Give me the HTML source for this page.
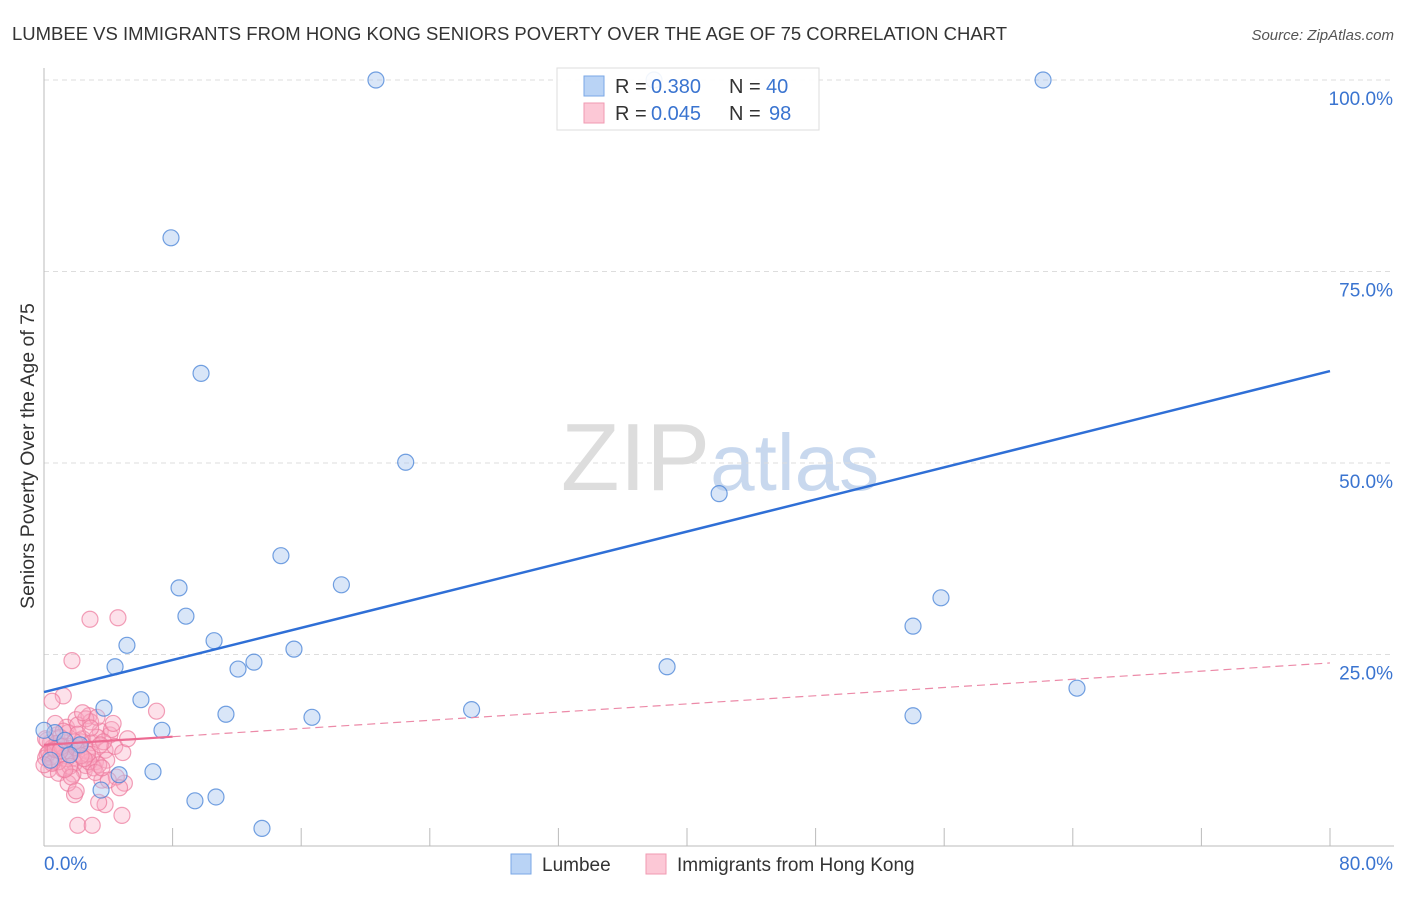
<!DOCTYPE html>
<html><head><meta charset="utf-8"><style>
body{margin:0;background:#fff;font-family:"Liberation Sans",sans-serif;}
svg text{font-family:"Liberation Sans",sans-serif;}
</style></head><body>
<svg id="c" width="1406" height="892" xmlns="http://www.w3.org/2000/svg">
<text x="12" y="40" font-size="18.5" fill="#333" textLength="995" lengthAdjust="spacingAndGlyphs">LUMBEE VS IMMIGRANTS FROM HONG KONG SENIORS POVERTY OVER THE AGE OF 75 CORRELATION CHART</text>
<text x="1394" y="40" font-size="15" fill="#555" text-anchor="end" font-style="italic">Source: ZipAtlas.com</text>
<text x="720" y="490" font-size="96" fill="#ddd" text-anchor="middle" font-family="Liberation Serif">ZIP<tspan fill="#c8d8ee" font-family="Liberation Sans" font-size="80">atlas</tspan></text>
<g id="grid"></g><g id="pts"></g><g id="lines"></g>
<text transform="translate(34,456) rotate(-90)" font-size="19.5" fill="#333" text-anchor="middle">Seniors Poverty Over the Age of 75</text>
<g>
<rect x="557" y="68" width="262" height="62" fill="#fff" fill-opacity="0.9" stroke="#ddd"/>
<rect x="584" y="76" width="20" height="20" fill="#b9d3f5" stroke="#7aa7e6"/>
<text x="615" y="93" font-size="20" fill="#333">R =</text>
<text x="651" y="93" font-size="20" fill="#3a74d0">0.380</text>
<text x="729" y="93" font-size="20" fill="#333">N =</text>
<text x="766" y="93" font-size="20" fill="#3a74d0">40</text>
<rect x="584" y="103" width="20" height="20" fill="#fcc8d6" stroke="#f09ab2"/>
<text x="615" y="120" font-size="20" fill="#333">R =</text>
<text x="651" y="120" font-size="20" fill="#3a74d0">0.045</text>
<text x="729" y="120" font-size="20" fill="#333">N =</text>
<text x="769" y="120" font-size="20" fill="#3a74d0">98</text>
</g>
<g>
<rect x="511" y="854" width="20" height="20" fill="#b9d3f5" stroke="#7aa7e6"/>
<text x="542" y="871" font-size="19" fill="#333">Lumbee</text>
<rect x="646" y="854" width="20" height="20" fill="#fcc8d6" stroke="#f09ab2"/>
<text x="677" y="871" font-size="19" fill="#333">Immigrants from Hong Kong</text>
</g>
</svg>
<script>
const yTicks=[25,50,75,100];
const yTickLabels=["25.0%","50.0%","75.0%","100.0%"];
const xTicks=[8,16,24,32,40,48,56,64,72,80];
const blueX=[20.65,62.15,37.95,7.9,9.77,22.5,42.0,14.74,8.4,18.5,55.8,8.83,54.06,5.16,10.58,15.55,13.06,12.07,4.42,38.76,64.26,6.03,3.73,26.6,7.34,11.32,16.67,54.06,0.68,0,6.78,4.67,3.55,9.39,10.7,13.56,2.24,1.3,0.4,1.6];
const blueY=[100,100,100,79.4,61.7,50.1,46.0,37.9,33.7,34.1,32.4,30.0,28.7,26.2,26.8,25.7,24.0,23.1,23.4,23.4,20.6,19.1,18.0,17.8,15.1,17.2,16.8,17.0,14.8,15.1,9.7,9.3,7.3,5.9,6.4,2.3,13.2,13.8,11.2,11.9];
const pinkX=[2.86,4.6,1.74,7.0,1.2,0.5,2.1,3.0,4.85,3.8,3.4,5.0,1.9,0.2,0.4,0.6,0.8,1.0,1.2,1.4,1.6,1.8,2.0,2.2,2.4,2.6,2.8,3.0,3.2,3.5,3.8,4.1,4.4,0.1,0.3,0.5,0.7,0.9,1.1,1.3,1.5,1.7,1.9,2.1,2.3,2.5,2.7,2.9,3.1,3.3,3.6,3.9,4.2,4.5,0.2,0.6,1.0,1.4,1.8,2.2,2.6,3.0,3.4,0.4,0.8,1.2,1.6,2.0,2.4,2.8,3.2,3.7,4.3,4.9,0.3,0.9,1.5,2.1,2.7,3.3,0.1,0.5,1.1,1.7,2.3,2.9,3.5,4.0,0.7,1.3,1.9,2.5,5.2,4.7,1.0,2.0,3.6,0.0];
const pinkY=[29.6,29.8,24.2,17.6,19.6,18.9,2.7,2.7,4.0,5.4,5.7,8.2,6.7,12.0,13.5,11.0,14.5,12.5,10.0,15.5,13.0,11.5,16.5,12.0,14.0,10.5,17.0,13.5,11.0,15.0,12.5,14.5,13.0,11.5,10.0,12.8,16.0,9.5,13.2,11.8,14.8,12.2,10.8,15.8,13.6,9.8,12.4,16.2,10.2,14.2,8.6,11.2,15.2,9.0,13.8,12.6,14.2,11.4,9.4,13.0,16.6,12.0,10.6,11.6,13.4,15.0,10.4,12.8,17.4,11.0,9.6,13.6,16.0,12.2,12.2,11.0,8.2,14.6,12.0,16.8,14.0,10.8,13.0,9.0,11.8,15.4,13.2,8.6,12.6,10.0,13.6,11.4,14.0,7.6,12.4,7.2,10.2,10.6];
const blueFit=[20.1,62.0];
const pinkFit=[13.2,23.9];
const X=v=>44+v*16.075, Y=v=>846-v*7.66;
const ns="http://www.w3.org/2000/svg";
function mk(t,a,p){const e=document.createElementNS(ns,t);for(const k in a)e.setAttribute(k,a[k]);p.appendChild(e);return e;}
const g=document.getElementById('grid');
yTicks.forEach((t,i)=>{
 const l=mk('line',{x1:44,x2:1394,y1:Y(t),y2:Y(t),stroke:'#ddd','stroke-dasharray':'5,4'},g);
 
 
 const tx=mk('text',{x:1393,y:Y(t)+25,'font-size':19,fill:'#3a74d0','text-anchor':'end'},g);
 tx.textContent=yTickLabels[i];
 
 
});
const ax=mk('line',{x1:44,x2:44,y1:68,y2:846,stroke:'#bbb'},g);


const bx=mk('line',{x1:44,x2:1394,y1:846,y2:846,stroke:'#bbb'},g);


xTicks.forEach(t=>{const l=mk('line',{x1:X(t),x2:X(t),y1:828,y2:846,stroke:'#bbb'},g);
 
 });
[["0.0%",44,"start"],["80.0%",1393,"end"]].forEach(a=>{const t=mk('text',{x:a[1],y:870,'font-size':19,fill:'#3a74d0','text-anchor':a[2]},g);t.textContent=a[0];
 
 });
const p=document.getElementById('pts');
pinkX.forEach((x,i)=>{const c=mk('circle',{cx:X(x),cy:Y(pinkY[i]),r:8,fill:'rgba(248,170,195,0.35)',stroke:'rgba(236,120,155,0.7)','stroke-width':1.2},p);
 
 });
blueX.forEach((x,i)=>{const c=mk('circle',{cx:X(x),cy:Y(blueY[i]),r:8,fill:'rgba(170,200,240,0.45)',stroke:'rgba(70,130,215,0.75)','stroke-width':1.2},p);
 
 });
const L=document.getElementById('lines');
const b=mk('line',{x1:X(0),y1:Y(blueFit[0]),x2:X(80),y2:Y(blueFit[1]),stroke:'#2f6fd6','stroke-width':2.5},L);


const pm=v=>pinkFit[0]+(pinkFit[1]-pinkFit[0])*v/80;
const ps=mk('line',{x1:X(0),y1:Y(pm(0)),x2:X(8),y2:Y(pm(8)),stroke:'#ec6a92','stroke-width':2.2},L);


const pd=mk('line',{x1:X(8),y1:Y(pm(8)),x2:X(80),y2:Y(pm(80)),stroke:'#ec8aa8','stroke-width':1.2,'stroke-dasharray':'8,5'},L);


</script>
</body></html>
